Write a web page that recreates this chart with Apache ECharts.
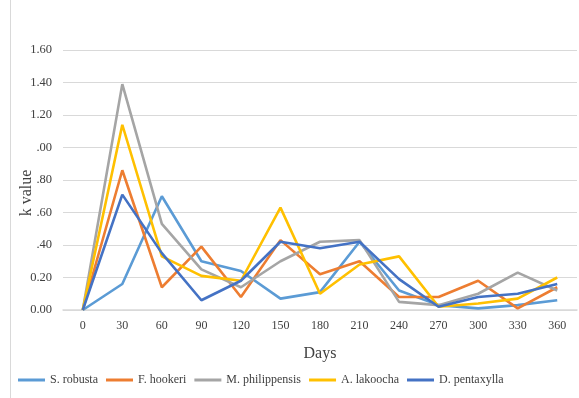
<!DOCTYPE html>
<html><head><meta charset="utf-8">
<script src="https://cdn.jsdelivr.net/npm/echarts@6/dist/echarts.min.js"></script>
<style>html,body{margin:0;padding:0;background:#fff}#c{width:579px;height:398px}</style>
</head><body><div id="c"></div>
<script>
const days = ['0','30','60','90','120','150','180','210','240','270','300','330','360'];
const yTickLabels = ['0.00','0.20','.40','.60','.80','.00','1.20','1.40','1.60'];
const sRobusta      = [0, 0.16, 0.70, 0.30, 0.24, 0.07, 0.11, 0.42, 0.12, 0.03, 0.01, 0.03, 0.06];
const fHookeri      = [0, 0.86, 0.14, 0.39, 0.08, 0.43, 0.22, 0.30, 0.08, 0.08, 0.18, 0.01, 0.14];
const mPhilippensis = [0, 1.39, 0.53, 0.25, 0.14, 0.30, 0.42, 0.43, 0.05, 0.03, 0.10, 0.23, 0.12];
const aLakoocha     = [0, 1.14, 0.33, 0.21, 0.18, 0.63, 0.10, 0.28, 0.33, 0.02, 0.04, 0.07, 0.20];
const dPentaxylla   = [0, 0.71, 0.35, 0.06, 0.18, 0.42, 0.38, 0.42, 0.19, 0.02, 0.08, 0.10, 0.16];
const seriesNames = ['S. robusta','F. hookeri','M. philippensis','A. lakoocha','D. pentaxylla'];
const seriesData = [sRobusta, fHookeri, mPhilippensis, aLakoocha, dPentaxylla];
const colors = ['#5B9BD5','#ED7D31','#A5A5A5','#FFC000','#4472C4'];
const font = 'Liberation Serif';

const chart = echarts.init(document.getElementById('c'), null, {renderer:'canvas'});
chart.setOption({
  animation:false,
  color: colors,
  grid:{left:63, right:2, top:50, bottom:88, outerBoundsMode:'none', containLabel:false},
  graphic:[{type:'line', shape:{x1:10.5,y1:0,x2:10.5,y2:398}, style:{stroke:'#d9d9d9', lineWidth:1}}],
  legend:{
    left:18, top:374, padding:0, icon:'rect', itemWidth:27, itemHeight:3, itemGap:8,
    textStyle:{fontFamily:font, fontSize:12, color:'#404040'},
    data: seriesNames
  },
  xAxis:{
    type:'category', data:days, boundaryGap:true,
    name:'Days', nameLocation:'middle', nameGap:36, nameMoveOverlap:false,
    nameTextStyle:{fontFamily:font, fontSize:16, color:'#404040'},
    axisLine:{lineStyle:{color:'#d9d9d9', width:1.5}},
    axisTick:{show:false},
    axisLabel:{fontFamily:font, fontSize:12, color:'#404040', margin:10, interval:0}
  },
  yAxis:{
    type:'value', min:0, max:1.6, interval:0.2,
    name:'k value', nameLocation:'middle', nameGap:28, nameRotate:90, nameMoveOverlap:false,
    nameTextStyle:{fontFamily:font, fontSize:16, color:'#404040', padding:[0,0,0,-26]},
    axisLine:{show:false}, axisTick:{show:false},
    splitLine:{lineStyle:{color:'#d9d9d9', width:1}},
    axisLabel:{fontFamily:font, fontSize:12.5, color:'#404040', margin:11,
      formatter:function(v){ return yTickLabels[Math.round(v/0.2)]; }}
  },
  series: seriesNames.map((n,i)=>({
    name:n, type:'line', data:seriesData[i], symbol:'none',
    lineStyle:{width:2.6, color:colors[i]}, itemStyle:{color:colors[i]}
  }))
});
</script></body></html>
